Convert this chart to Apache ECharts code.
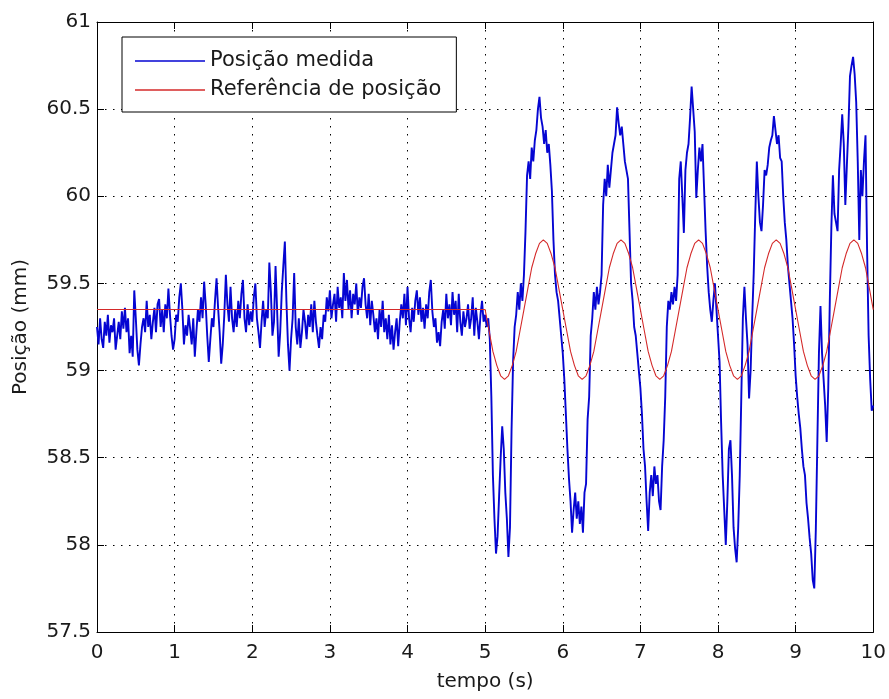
<!DOCTYPE html>
<html>
<head>
<meta charset="utf-8">
<script src="https://cdn.jsdelivr.net/npm/echarts@6/dist/echarts.min.js"></script>
<style>
html,body{margin:0;padding:0;background:#fff;}
#chart{width:889px;height:699px;}
</style>
</head>
<body>
<div id="chart"></div>
<script>
// ---- data ----
const seriesNames = ['Posição medida', 'Referência de posição'];
const xTicks = [0, 1, 2, 3, 4, 5, 6, 7, 8, 9, 10];
const yTicks = [57.5, 58, 58.5, 59, 59.5, 60, 60.5, 61];

// measured position, sampled every 0.02 s from t = 0 to t = 10
const measuredDt = 0.02;
const measured = [
  // 0.00 - 4.98 s
  59.25,59.15,59.30,59.18,59.13,59.28,59.20,59.32,59.16,59.26,
  59.22,59.30,59.12,59.20,59.28,59.18,59.34,59.24,59.36,59.22,
  59.30,59.10,59.20,59.08,59.46,59.30,59.12,59.03,59.15,59.25,
  59.30,59.22,59.40,59.25,59.32,59.18,59.28,59.36,59.22,59.38,
  59.41,59.25,59.35,59.22,59.38,59.30,59.47,59.32,59.20,59.12,
  59.18,59.32,59.28,59.42,59.50,59.35,59.15,59.26,59.20,59.32,
  59.24,59.15,59.30,59.08,59.22,59.35,59.28,59.42,59.30,59.51,
  59.38,59.20,59.05,59.18,59.30,59.25,59.40,59.53,59.36,59.22,
  59.04,59.15,59.32,59.55,59.38,59.28,59.48,59.30,59.22,59.35,
  59.25,59.40,59.30,59.44,59.52,59.30,59.22,59.38,59.26,59.34,
  59.28,59.42,59.50,59.30,59.22,59.13,59.28,59.40,59.25,59.35,
  59.30,59.62,59.45,59.20,59.28,59.60,59.35,59.08,59.22,59.45,
  59.60,59.74,59.40,59.15,59.00,59.18,59.30,59.56,59.25,59.15,
  59.30,59.13,59.22,59.35,59.28,59.18,59.32,59.25,59.38,59.22,
  59.40,59.28,59.20,59.13,59.25,59.18,59.32,59.28,59.42,59.34,
  59.46,59.30,59.38,59.44,59.28,59.48,59.36,59.42,59.30,59.56,
  59.40,59.52,59.35,59.46,59.30,59.44,59.38,59.50,59.32,59.42,
  59.36,59.48,59.53,59.38,59.30,59.44,59.26,59.40,59.32,59.22,
  59.30,59.18,59.35,59.25,59.40,59.22,59.30,59.18,59.32,59.15,
  59.26,59.12,59.22,59.30,59.14,59.28,59.38,59.30,59.44,59.26,
  59.48,59.30,59.22,59.36,59.28,59.40,59.46,59.32,59.42,59.28,
  59.36,59.24,59.38,59.30,59.45,59.52,59.34,59.25,59.30,59.16,
  59.22,59.14,59.28,59.35,59.24,59.44,59.30,59.38,59.26,59.45,
  59.32,59.40,59.22,59.44,59.28,59.20,59.34,59.25,59.30,59.38,
  59.24,59.30,59.42,59.20,59.36,59.28,59.18,59.32,59.40,59.28,
  // 5.00 - 10.00 s
  59.32,59.25,59.30,59.18,58.85,58.40,58.15,57.95,58.05,58.28,
  58.50,58.68,58.55,58.30,58.15,57.93,58.10,58.65,59.05,59.25,
  59.32,59.45,59.35,59.50,59.40,59.55,59.80,60.12,60.20,60.10,
  60.28,60.20,60.32,60.38,60.50,60.57,60.45,60.40,60.30,60.38,
  60.25,60.30,60.18,60.03,59.75,59.55,59.45,59.40,59.30,59.20,
  59.10,58.95,58.75,58.55,58.38,58.25,58.07,58.20,58.30,58.15,
  58.25,58.12,58.22,58.07,58.30,58.35,58.72,58.85,59.20,59.30,
  59.45,59.35,59.48,59.38,59.45,59.55,59.95,60.10,60.00,60.18,
  60.05,60.15,60.25,60.30,60.35,60.51,60.42,60.35,60.40,60.30,
  60.20,60.15,60.10,59.80,59.50,59.40,59.25,59.20,59.10,59.00,
  58.90,58.75,58.55,58.45,58.25,58.08,58.30,58.40,58.28,58.45,
  58.35,58.40,58.25,58.20,58.45,58.60,58.85,59.25,59.40,59.35,
  59.45,59.38,59.48,59.40,59.55,60.10,60.20,60.00,59.79,60.15,
  60.25,60.30,60.45,60.63,60.50,60.37,59.99,60.15,60.28,60.20,
  60.30,60.05,59.80,59.60,59.45,59.35,59.28,59.40,59.50,59.35,
  59.20,59.05,58.70,58.40,58.20,58.00,58.25,58.55,58.60,58.40,
  58.10,57.98,57.90,58.10,58.40,58.85,59.30,59.48,59.30,59.15,
  58.84,59.00,59.30,59.56,59.90,60.20,60.00,59.85,59.80,59.95,
  60.15,60.12,60.18,60.28,60.32,60.35,60.46,60.38,60.30,60.35,
  60.22,60.20,60.00,59.85,59.75,59.60,59.50,59.40,59.30,59.15,
  58.97,58.85,58.75,58.67,58.55,58.45,58.40,58.24,58.15,58.04,
  57.95,57.80,57.75,58.09,58.60,59.10,59.37,59.10,58.95,58.80,
  58.59,58.90,59.40,59.82,60.12,59.90,59.85,59.80,60.15,60.30,
  60.47,60.30,59.95,60.18,60.40,60.69,60.75,60.80,60.70,60.54,
  60.20,59.75,60.15,60.00,60.20,60.35,59.70,59.20,58.95,58.77,
  58.80
];

// position reference: constant level until 5 s, then sampled every 0.05 s
const refLevel = 59.35;
const refStepStart = 5.0;
const refDt = 0.05;
const refValues = [
  59.35,59.23,59.11,59.03,58.97,58.95,58.97,59.03,59.11,59.23,59.35,59.47,59.59,59.67,59.73,59.75,59.73,59.67,59.59,59.47,
  59.35,59.23,59.11,59.03,58.97,58.95,58.97,59.03,59.11,59.23,59.35,59.47,59.59,59.67,59.73,59.75,59.73,59.67,59.59,59.47,
  59.35,59.23,59.11,59.03,58.97,58.95,58.97,59.03,59.11,59.23,59.35,59.47,59.59,59.67,59.73,59.75,59.73,59.67,59.59,59.47,
  59.35,59.23,59.11,59.03,58.97,58.95,58.97,59.03,59.11,59.23,59.35,59.47,59.59,59.67,59.73,59.75,59.73,59.67,59.59,59.47,
  59.35,59.23,59.11,59.03,58.97,58.95,58.97,59.03,59.11,59.23,59.35,59.47,59.59,59.67,59.73,59.75,59.73,59.67,59.59,59.47,
  59.35
];

// ---- build series data ----
const measuredData = measured.map((v, i) => [+(i * measuredDt).toFixed(3), v]);
const refData = [[0, refLevel]].concat(refValues.map((v, i) => [+(refStepStart + i * refDt).toFixed(3), v]));

const FONT = 'DejaVu Sans';
const TXT = '#1a1a1a';
const BLUE = '#0505d2';
const RED = '#d42a2a';

const chart = echarts.init(document.getElementById('chart'), null, {renderer: 'canvas'});

const tickStyle = {show: true, inside: true, length: 7, lineStyle: {color: '#000', width: 1}};
const gridStyle = {show: true, lineStyle: {color: '#000', width: 1, type: [1.5, 6.5]}};

chart.setOption({
  animation: false,
  backgroundColor: '#ffffff',
  grid: {left: 97, right: 11, top: 22, bottom: 67, containLabel: false},
  legend: {
    show: true,
    data: [
      {name: seriesNames[0], icon: 'rect', itemStyle: {color: BLUE}},
      {name: seriesNames[1], icon: 'rect', itemStyle: {color: RED}}
    ],
    orient: 'vertical',
    left: 122,
    top: 37,
    padding: [13, 15, 11, 13],
    itemGap: 7,
    itemWidth: 70,
    itemHeight: 1.5,
    backgroundColor: '#ffffff',
    borderColor: '#000',
    borderWidth: 1,
    borderRadius: 0,
    textStyle: {fontFamily: FONT, fontSize: 21, color: TXT, lineHeight: 22}
  },
  xAxis: [
    {
      type: 'value', min: 0, max: 10, interval: 1, position: 'bottom',
      name: 'tempo (s)', nameLocation: 'middle', nameGap: 40,
      nameTextStyle: {fontFamily: FONT, fontSize: 20, color: TXT},
      axisLine: {show: true, onZero: false, lineStyle: {color: '#000', width: 1}},
      axisTick: tickStyle,
      axisLabel: {fontFamily: FONT, fontSize: 20, color: TXT, margin: 11,
        formatter: v => xTicks.indexOf(v) >= 0 ? String(v) : ''},
      splitLine: gridStyle
    },
    {
      type: 'value', min: 0, max: 10, interval: 1, position: 'top',
      axisLine: {show: true, onZero: false, lineStyle: {color: '#000', width: 1}},
      axisTick: tickStyle, axisLabel: {show: false}, splitLine: {show: false}
    }
  ],
  yAxis: [
    {
      type: 'value', min: 57.5, max: 61, interval: 0.5, position: 'left',
      name: 'Posição (mm)', nameLocation: 'middle', nameGap: 66, nameRotate: 90,
      nameTextStyle: {fontFamily: FONT, fontSize: 20, color: TXT},
      axisLine: {show: true, onZero: false, lineStyle: {color: '#000', width: 1}},
      axisTick: tickStyle,
      axisLabel: {fontFamily: FONT, fontSize: 20, color: TXT, margin: 6,
        formatter: v => yTicks.indexOf(v) >= 0 ? String(v) : ''},
      splitLine: gridStyle
    },
    {
      type: 'value', min: 57.5, max: 61, interval: 0.5, position: 'right',
      axisLine: {show: true, onZero: false, lineStyle: {color: '#000', width: 1}},
      axisTick: tickStyle, axisLabel: {show: false}, splitLine: {show: false}
    }
  ],
  series: [
    {
      name: seriesNames[0], type: 'line', xAxisIndex: 0, yAxisIndex: 0,
      data: measuredData, symbol: 'none', showSymbol: false,
      lineStyle: {color: BLUE, width: 1.9},
      itemStyle: {color: BLUE},
      z: 2
    },
    {
      name: seriesNames[1], type: 'line', xAxisIndex: 0, yAxisIndex: 0,
      data: refData, symbol: 'none', showSymbol: false,
      lineStyle: {color: RED, width: 1.1},
      itemStyle: {color: RED},
      z: 3
    }
  ]
});
</script>
</body>
</html>
